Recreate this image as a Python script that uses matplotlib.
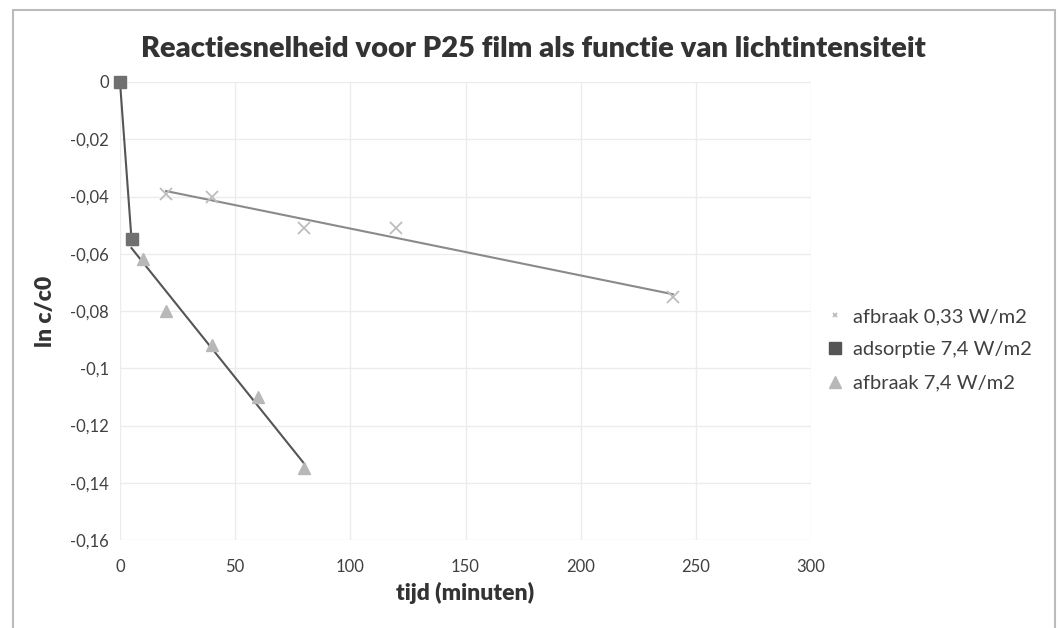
import matplotlib.pyplot as plt
import numpy as np
from matplotlib.patches import Rectangle

plt.rcParams['font.family'] = ['Lato', 'DejaVu Sans']

# data
t_low = [20, 40, 80, 120, 240]
lnc_low = [-0.039, -0.040, -0.051, -0.051, -0.075]

t_ads = [0, 5]
lnc_ads = [0.0, -0.055]

t_high = [5, 10, 20, 40, 60, 80]
lnc_high = [-0.055, -0.062, -0.080, -0.092, -0.110, -0.135]

xticks = [0, 50, 100, 150, 200, 250, 300]
yticks = [0, -0.02, -0.04, -0.06, -0.08, -0.1, -0.12, -0.14, -0.16]
ylabels = ['0', '-0,02', '-0,04', '-0,06', '-0,08', '-0,1', '-0,12', '-0,14', '-0,16']

fig = plt.figure(figsize=(10.59, 6.28), dpi=100)
fig.patches.append(Rectangle((13 / 1059, -0.05), 1042 / 1059, 1 - 10 / 628 + 0.05,
                             transform=fig.transFigure, fill=False,
                             edgecolor='#bbbbbb', linewidth=1.5))

ax = fig.add_axes([120 / 1059, 88 / 628, 691 / 1059, 458 / 628])

# linear trendlines (as in Excel)
p_low = np.polyfit(t_low, lnc_low, 1)
xl = np.array([t_low[0], t_low[-1]])
ax.plot(xl, np.polyval(p_low, xl), color='#8a8a8a', linewidth=1.5, zorder=2)
ax.plot(t_low, lnc_low, linestyle='none', marker='x', markersize=8,
        color='#bdbdbd', markeredgewidth=1.3, label='afbraak 0,33 W/m2', zorder=3)

p_high = np.polyfit(t_high, lnc_high, 1)
xh = np.array([t_high[0], t_high[-1]])
ax.plot(xh, np.polyval(p_high, xh), color='#555555', linewidth=1.5, zorder=2)

ax.plot(t_ads, lnc_ads, color='#555555', linewidth=1.5, marker='s', markersize=9,
        markerfacecolor='#707070', markeredgecolor='#707070', zorder=4, clip_on=False)
ax.plot([], [], linestyle='none', marker='s', markersize=8, color='#555555',
        label='adsorptie 7,4 W/m2')

ax.plot(t_high, lnc_high, linestyle='none', marker='^', markersize=8,
        color='#b8b8b8', label='afbraak 7,4 W/m2', zorder=3)

ax.set_xlim(0, 300)
ax.set_ylim(-0.16, 0)
ax.set_xticks(xticks)
ax.set_yticks(yticks)
ax.set_yticklabels(ylabels)
ax.grid(True, color='#ececec', linewidth=1)
ax.set_axisbelow(True)
for s in ax.spines.values():
    s.set_visible(False)
ax.tick_params(length=0, labelsize=12, colors='#404040')
ax.tick_params(axis='y', pad=8)
ax.tick_params(axis='x', pad=14)

ax.set_xlabel('tijd (minuten)', fontsize=16.5, fontweight='heavy', color='#333333', labelpad=5)
ax.set_ylabel('ln c/c0', fontsize=16.5, fontweight='heavy', color='#333333', labelpad=10)
fig.text(533 / 1059, 1 - 49 / 628, 'Reactiesnelheid voor P25 film als functie van lichtintensiteit',
         ha='center', va='center', fontsize=21, fontweight='heavy', color='#333333')

leg = ax.legend(loc='center left', bbox_to_anchor=(1.0, 0.415), frameon=False,
                fontsize=14.5, handlelength=0.6, handletextpad=0.6, labelspacing=0.8,
                labelcolor='#404040')
leg.legend_handles[0].set_markersize(3)

fig.savefig('out.png', dpi=100)
